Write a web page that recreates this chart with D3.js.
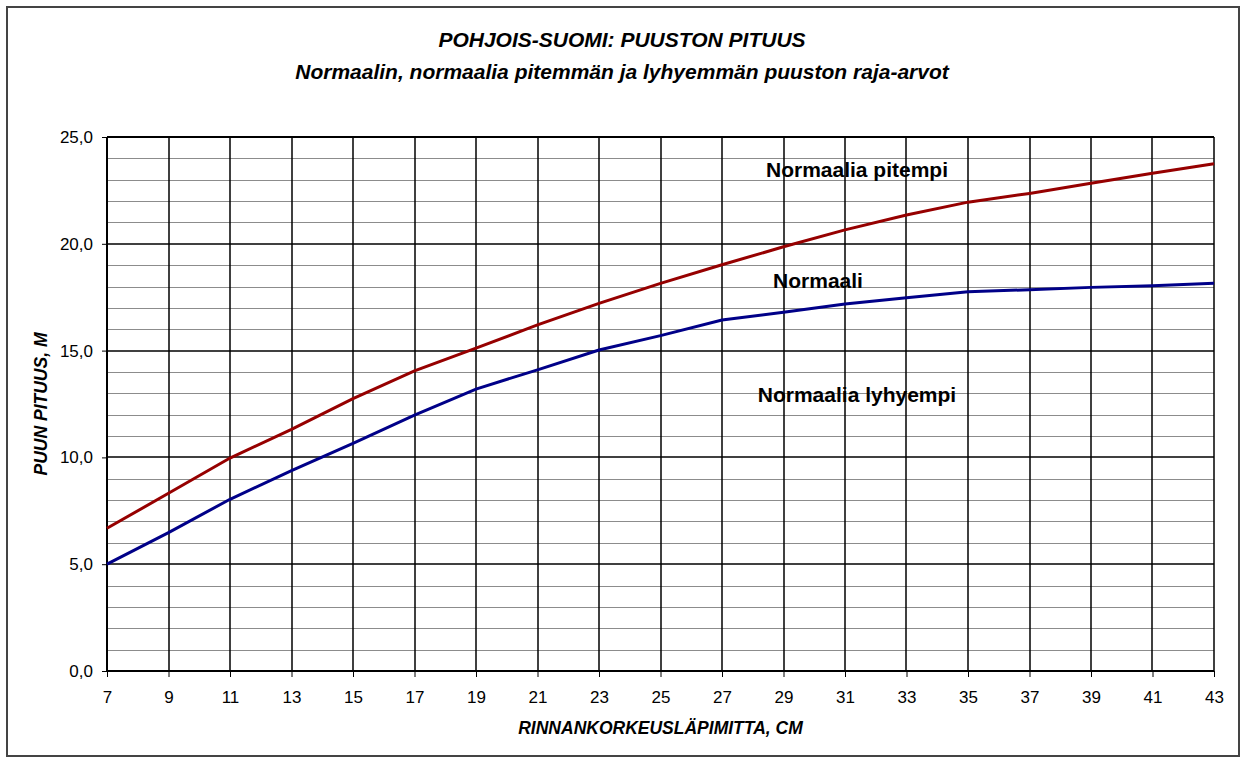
<!DOCTYPE html>
<html>
<head>
<meta charset="utf-8">
<script src="https://cdn.jsdelivr.net/npm/d3@7"></script>
<style>
body { margin: 0; background: #fff; }
svg { display: block; font-family: Arial, "Liberation Sans", sans-serif; }
</style>
</head>
<body>
<svg id="chart" width="1245" height="763"></svg>
<script>
var diameters = [7, 9, 11, 13, 15, 17, 19, 21, 23, 25, 27, 29, 31, 33, 35, 37, 39, 41, 43];
var taller = [6.68, 8.32, 9.97, 11.31, 12.75, 14.05, 15.12, 16.2, 17.21, 18.15, 19.02, 19.86, 20.65, 21.35, 21.95, 22.36, 22.83, 23.3, 23.75];
var normal = [5.0, 6.48, 8.04, 9.38, 10.66, 11.98, 13.2, 14.1, 15.03, 15.7, 16.43, 16.8, 17.18, 17.47, 17.76, 17.85, 17.96, 18.04, 18.15];
var xTicks = d3.range(7, 44, 2);
var yMajor = [0, 5, 10, 15, 20, 25];
var yMinor = [1, 2, 3, 4, 6, 7, 8, 9, 11, 12, 13, 14, 16, 17, 18, 19, 21, 22, 23, 24];

var title1 = "POHJOIS-SUOMI: PUUSTON PITUUS";
var title2 = "Normaalin, normaalia pitemmän ja lyhyemmän puuston raja-arvot";
var xTitle = "RINNANKORKEUSLÄPIMITTA, CM";
var yTitle = "PUUN PITUUS, M";

var svg = d3.select('#chart');

var plotLeft = 107, plotRight = 1214, plotTop = 137, plotBottom = 671;

var x = d3.scaleLinear().domain([7, 43]).range([plotLeft, plotRight]);
var y = d3.scaleLinear().domain([0, 25]).range([plotBottom, plotTop]);

// outer frame
svg.append('rect')
	.attr('x', 7).attr('y', 7)
	.attr('width', 1232).attr('height', 749)
	.attr('fill', 'none')
	.attr('stroke', '#444')
	.attr('stroke-width', 2);

// minor gridlines
svg.append('g').selectAll('line')
	.data(yMinor).enter().append('line')
	.attr('x1', plotLeft).attr('x2', plotRight)
	.attr('y1', d => Math.round(y(d)) + 0.5).attr('y2', d => Math.round(y(d)) + 0.5)
	.attr('stroke', '#8c8c8c')
	.attr('stroke-width', 1);

// major horizontal gridlines
svg.append('g').selectAll('line')
	.data(yMajor).enter().append('line')
	.attr('x1', plotLeft).attr('x2', plotRight)
	.attr('y1', d => Math.round(y(d)))
	.attr('y2', d => Math.round(y(d)))
	.attr('stroke', '#000')
	.attr('stroke-width', 1.5);

// vertical gridlines
svg.append('g').selectAll('line')
	.data(xTicks).enter().append('line')
	.attr('x1', d => Math.round(x(d))).attr('x2', d => Math.round(x(d)))
	.attr('y1', plotTop).attr('y2', plotBottom)
	.attr('stroke', '#000')
	.attr('stroke-width', 1.5);

// top border of plot area
svg.append('line')
	.attr('x1', plotLeft).attr('x2', plotRight)
	.attr('y1', plotTop).attr('y2', plotTop)
	.attr('stroke', '#000').attr('stroke-width', 2);

// axes
var xAxis = d3.axisBottom(x).tickValues(xTicks).tickSize(6).tickPadding(14);
var yAxis = d3.axisLeft(y).tickValues(yMajor).tickSize(5).tickPadding(9)
	.tickFormat(d => d3.format('.1f')(d).replace('.', ','));

var gx = svg.append('g').attr('transform', 'translate(0,' + plotBottom + ')').call(xAxis);
var gy = svg.append('g').attr('transform', 'translate(' + plotLeft + ',0)').call(yAxis);

[gx, gy].forEach(g => {
	g.select('.domain').attr('stroke', '#000').attr('stroke-width', 2);
	g.selectAll('.tick line').attr('stroke', '#000');
	g.selectAll('.tick text')
		.attr('fill', '#000')
		.style('font-size', '17px')
		.style('font-family', 'Arial, "Liberation Sans", sans-serif');
});
gx.select('.domain').attr('d', 'M' + plotLeft + ',0H' + plotRight);
gy.select('.domain').attr('d', 'M0,' + plotTop + 'V' + plotBottom);

// series
var line = d3.line()
	.x((d, i) => x(diameters[i]))
	.y(d => y(d));

svg.append('path')
	.datum(taller)
	.attr('d', line)
	.attr('fill', 'none')
	.attr('stroke', '#960000')
	.attr('stroke-width', 3);

svg.append('path')
	.datum(normal)
	.attr('d', line)
	.attr('fill', 'none')
	.attr('stroke', '#000088')
	.attr('stroke-width', 3);

// annotations
var notes = [
	{ text: 'Normaalia pitempi', cx: 857, cy: 177 },
	{ text: 'Normaali', cx: 818, cy: 288 },
	{ text: 'Normaalia lyhyempi', cx: 857, cy: 402 }
];
svg.append('g').selectAll('text')
	.data(notes).enter().append('text')
	.attr('x', d => d.cx).attr('y', d => d.cy)
	.attr('text-anchor', 'middle')
	.style('font-size', '21px')
	.style('font-weight', 'bold')
	.text(d => d.text);

// titles
svg.append('text')
	.attr('x', 622).attr('y', 47)
	.attr('text-anchor', 'middle')
	.style('font-size', '21px').style('font-weight', 'bold').style('font-style', 'italic')
	.text(title1);
svg.append('text')
	.attr('x', 622).attr('y', 79)
	.attr('text-anchor', 'middle')
	.style('font-size', '21px').style('font-weight', 'bold').style('font-style', 'italic')
	.text(title2);

svg.append('text')
	.attr('x', (plotLeft + plotRight) / 2).attr('y', 734)
	.attr('text-anchor', 'middle')
	.style('font-size', '17.5px').style('font-weight', 'bold').style('font-style', 'italic')
	.text(xTitle);

svg.append('text')
	.attr('transform', 'translate(47,' + ((plotTop + plotBottom) / 2) + ') rotate(-90)')
	.attr('text-anchor', 'middle')
	.style('font-size', '17.5px').style('font-weight', 'bold').style('font-style', 'italic')
	.text(yTitle);
</script>
</body>
</html>
